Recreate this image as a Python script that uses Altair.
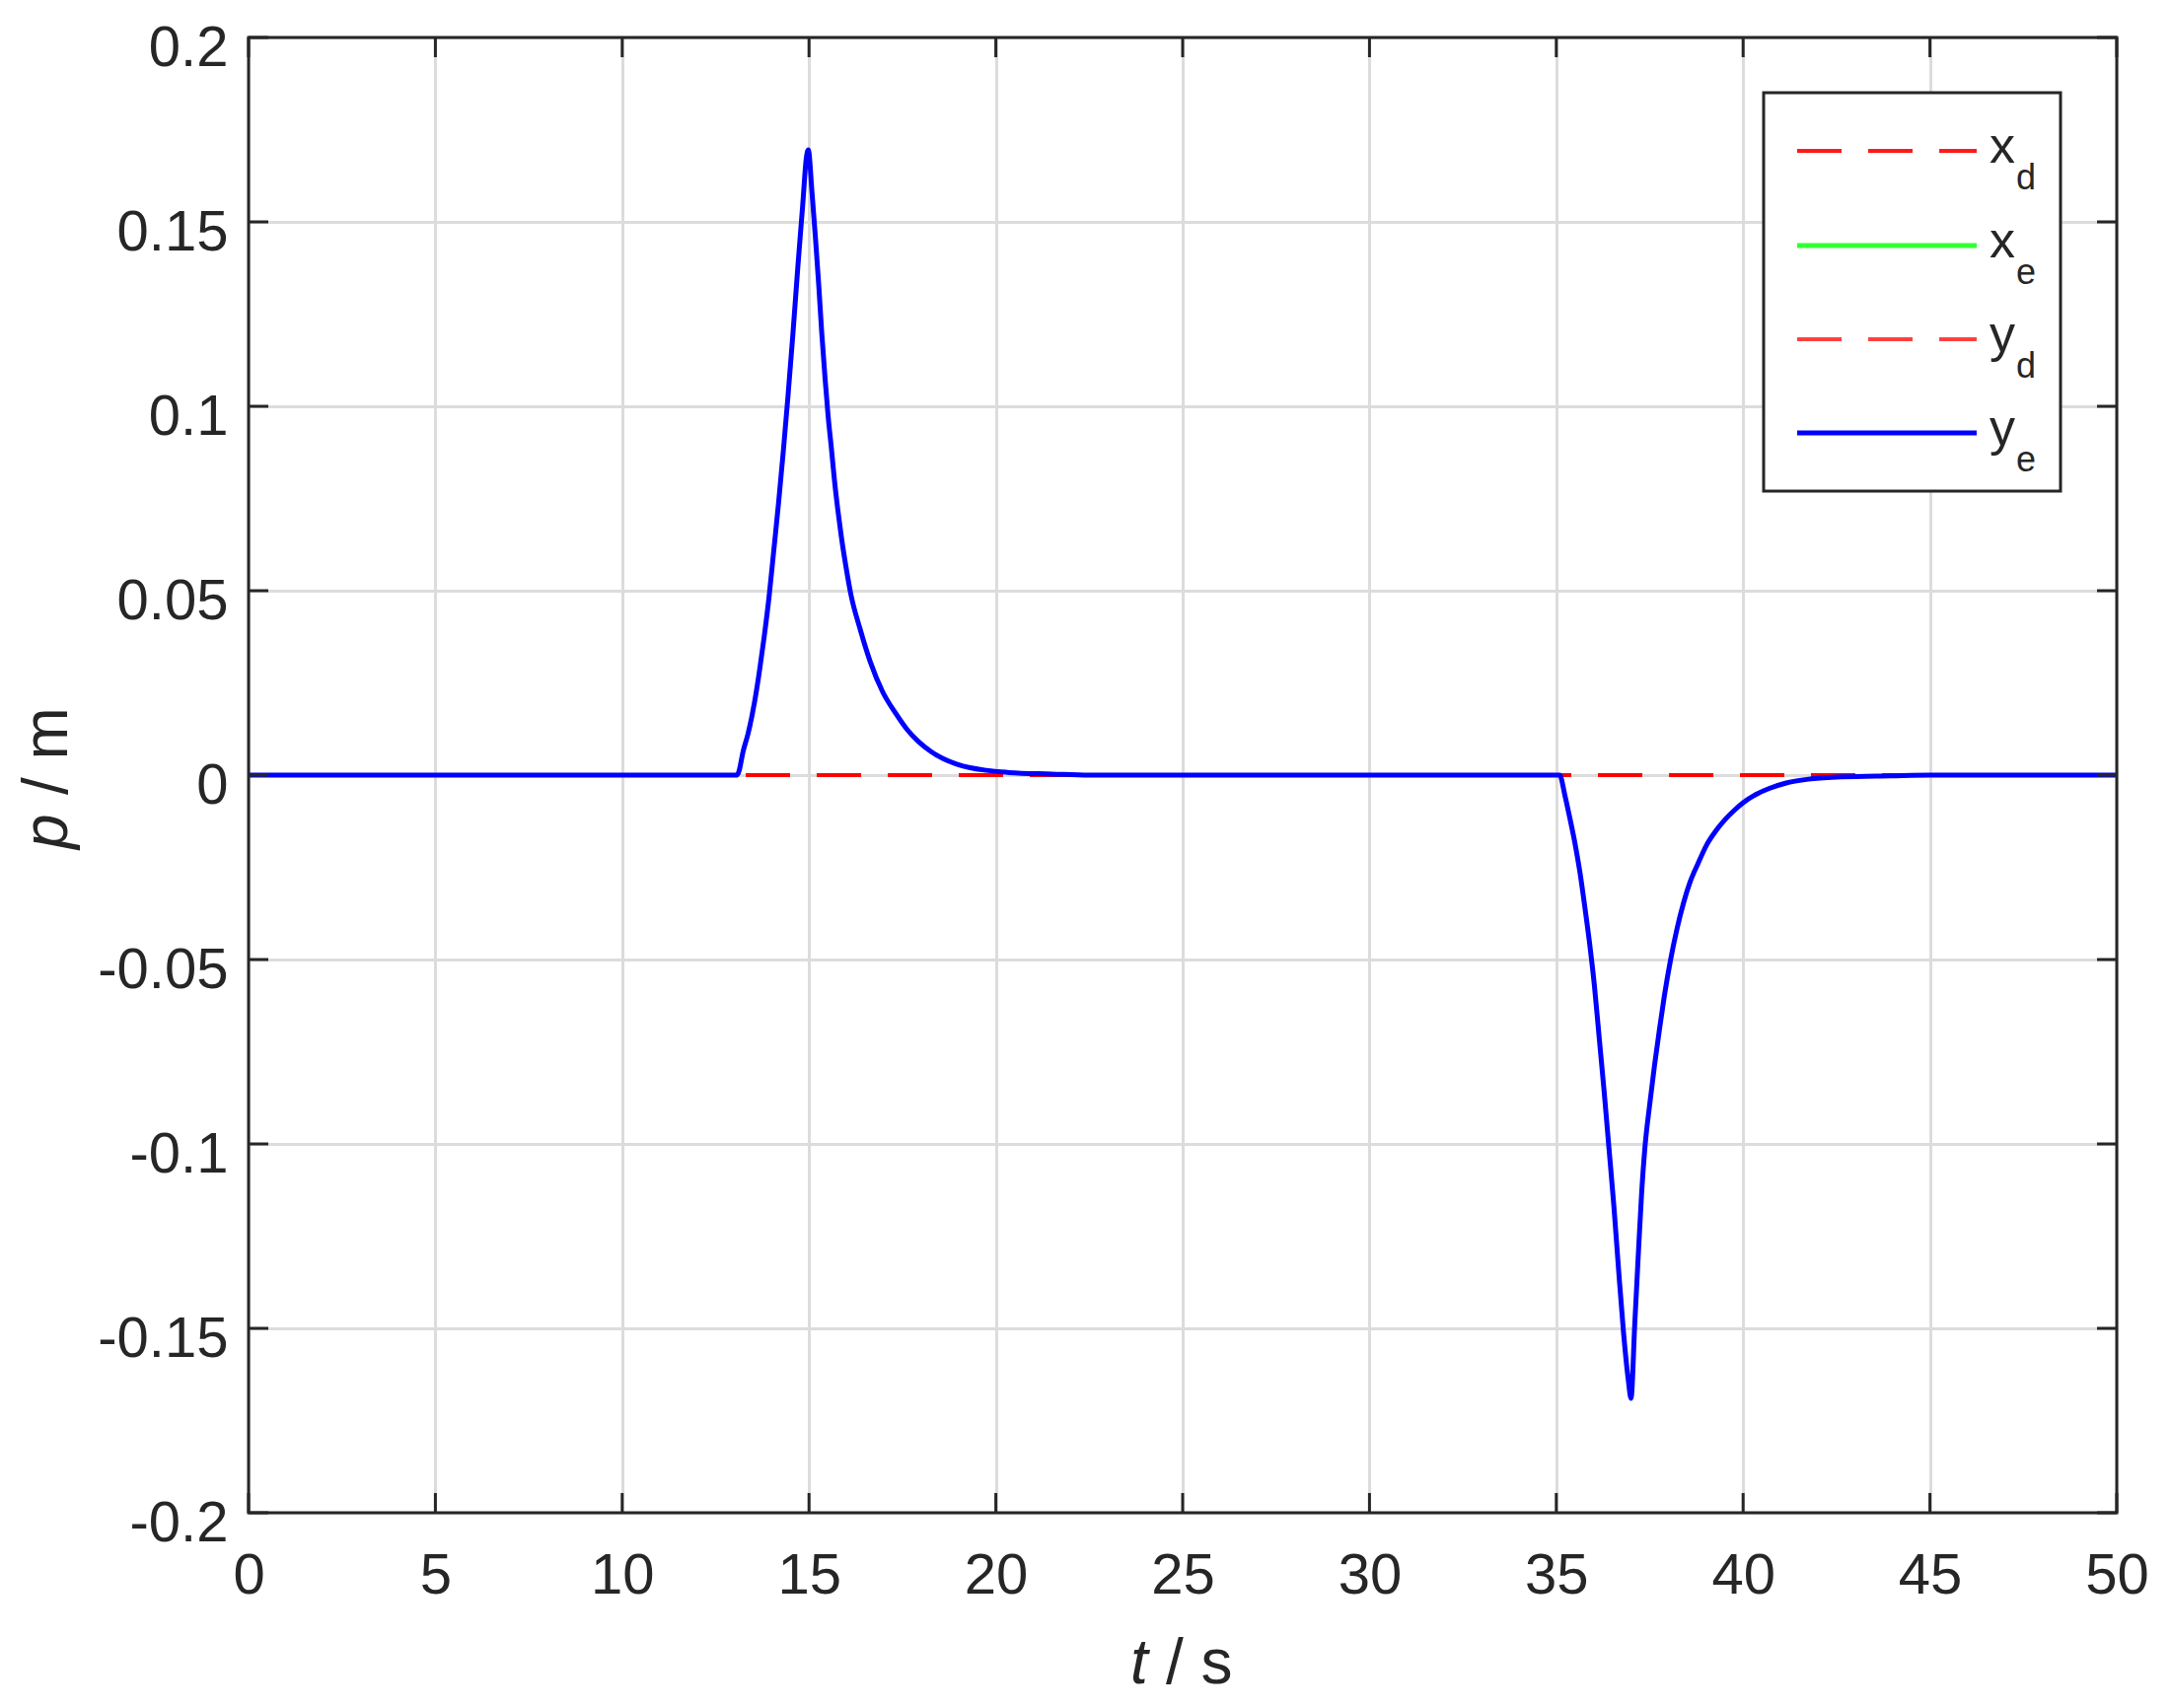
import altair as alt
import pandas as pd

# ---- data ----
t_ye = [0, 13.05, 13.11, 13.24, 13.37, 13.54, 13.67, 13.80, 13.93, 14.05, 14.18, 14.31,
        14.44, 14.57, 14.70, 14.83, 14.93, 14.98, 15.08, 15.17, 15.26, 15.34, 15.43,
        15.51, 15.60, 15.68, 15.77, 15.86, 16.03, 16.11, 16.37, 16.63, 16.97, 17.33,
        17.63, 17.94, 18.25, 18.60, 18.95, 19.31, 19.75, 20.36, 21.5, 22.5,
        35.0, 35.09, 35.23, 35.37, 35.50, 35.63, 35.76, 35.89, 36.02, 36.15, 36.28,
        36.41, 36.54, 36.67, 36.80, 36.93, 37.0, 37.10, 37.19, 37.28, 37.37, 37.50,
        37.63, 37.76, 37.89, 38.06, 38.23, 38.41, 38.58, 38.80, 39.02, 39.28, 39.54,
        39.77, 40.0, 40.35, 40.70, 41.13, 41.75, 42.63, 43.95, 45.0, 50.0]
y_e = [0, 0, 0.0006, 0.0066, 0.0113, 0.0197, 0.0280, 0.0375, 0.0483, 0.0602, 0.0733, 0.0876,
       0.1031, 0.1198, 0.1377, 0.1544, 0.1675, 0.1695, 0.1580, 0.1460, 0.1329, 0.1200, 0.1075,
       0.0975, 0.0885, 0.0800, 0.0720, 0.0650, 0.0540, 0.0495, 0.0395, 0.0310, 0.0226, 0.0166,
       0.0123, 0.0090, 0.0065, 0.0044, 0.0030, 0.0020, 0.0013, 0.0007, 0.0003, 0.0,
       0.0, 0.0, -0.0055, -0.0120, -0.0185, -0.0262, -0.0355, -0.0455, -0.0571, -0.0714, -0.0857,
       -0.1012, -0.1167, -0.1345, -0.1512, -0.1643, -0.1690, -0.1488, -0.1310, -0.1140, -0.1012, -0.0893,
       -0.0786, -0.0690, -0.0600, -0.0500, -0.0417, -0.0345, -0.0290, -0.0238, -0.0190, -0.0150, -0.0118,
       -0.0095, -0.0075, -0.0052, -0.0036, -0.0022, -0.0011, -0.0005, -0.0002, 0.0, 0.0]

t_ref = [0, 50]
x_d = [0, 0]
y_d = [0, 0]

x_ticks = [0, 5, 10, 15, 20, 25, 30, 35, 40, 45, 50]
y_ticks = [-0.2, -0.15, -0.1, -0.05, 0, 0.05, 0.1, 0.15, 0.2]

legend_main = ["x", "x", "y", "y"]
legend_sub = ["d", "e", "d", "e"]
legend_colors = ["#ff1a1a", "#33ff33", "#ff4040", "#0000ff"]
legend_dashed = [True, False, True, False]

x_title_italic, x_title_rest = "t", "/ s"
y_title_italic, y_title_rest = "p", "/ m"

# ---- layout / style ----
W, H = 1894, 1496
FONT = "Liberation Sans"
INK = "#262626"
GRID = "#dcdcdc"
DASH = [45, 27]
TICK = 20
LW = 5
LW_RED = 4

xscale = alt.Scale(domain=[0, 50], nice=False, zero=False)
yscale = alt.Scale(domain=[-0.2, 0.2], nice=False, zero=False)

x_axis = alt.Axis(values=x_ticks, grid=True, gridColor=GRID, gridWidth=3, domain=False,
                  ticks=False, tickSize=0, labelFont=FONT, labelFontSize=58, labelColor=INK,
                  labelPadding=35, labelFlush=False, title=None)
y_axis = alt.Axis(values=y_ticks, grid=True, gridColor=GRID, gridWidth=3, domain=False,
                  ticks=False, tickSize=0, labelFont=FONT, labelFontSize=58, labelColor=INK,
                  labelPadding=21, labelFlush=False, labelBaseline="alphabetic", labelOffset=28,
                  labelExpr="abs(datum.value) < 1e-9 ? '0' : (datum.value < 0 ? '-' : '') + format(abs(datum.value), '~g')",
                  title=None)

X = lambda f: alt.X(f, type="quantitative", scale=xscale, axis=x_axis)
Y = lambda f: alt.Y(f, type="quantitative", scale=yscale, axis=y_axis)

df_ref = pd.DataFrame({"t": t_ref, "xd": x_d, "yd": y_d})
df_ye = pd.DataFrame({"t": t_ye, "ye": y_e})

xd_line = alt.Chart(df_ref).mark_line(color="#ff0000", strokeWidth=LW_RED, strokeDash=DASH).encode(x=X("t"), y=Y("xd"))
yd_line = alt.Chart(df_ref).mark_line(color="#ff0000", strokeWidth=LW_RED, strokeDash=DASH).encode(x=X("t"), y=Y("yd"))
ye_line = alt.Chart(df_ye).mark_line(color="#0000ff", strokeWidth=LW, interpolate="monotone").encode(x=X("t"), y=Y("ye"))

df_xt = pd.DataFrame({"t": x_ticks})
df_yt = pd.DataFrame({"v": y_ticks})
tick_b = alt.Chart(df_xt).mark_rule(color=INK, strokeWidth=3).encode(x=X("t"), y=alt.value(H), y2=alt.value(H - TICK))
tick_t = alt.Chart(df_xt).mark_rule(color=INK, strokeWidth=3).encode(x=X("t"), y=alt.value(0), y2=alt.value(TICK))
tick_l = alt.Chart(df_yt).mark_rule(color=INK, strokeWidth=3).encode(y=Y("v"), x=alt.value(0), x2=alt.value(TICK))
tick_r = alt.Chart(df_yt).mark_rule(color=INK, strokeWidth=3).encode(y=Y("v"), x=alt.value(W), x2=alt.value(W - TICK))

one = pd.DataFrame({"a": [0]})
frame = alt.Chart(one).mark_rect(fillOpacity=0, stroke=INK, strokeWidth=3).encode(
    x=alt.value(0), x2=alt.value(W), y=alt.value(0), y2=alt.value(H))

# axis titles (italic variable + upright unit)
xt1 = alt.Chart(one).mark_text(text=x_title_italic, font=FONT, fontSize=64, fontStyle="italic", color=INK,
                               align="left", baseline="alphabetic").encode(x=alt.value(894), y=alt.value(1669))
xt2 = alt.Chart(one).mark_text(text=x_title_rest, font=FONT, fontSize=64, color=INK,
                               align="left", baseline="alphabetic").encode(x=alt.value(930), y=alt.value(1669))
yt1 = alt.Chart(one).mark_text(text=y_title_italic, font=FONT, fontSize=64, fontStyle="italic", color=INK,
                               align="left", baseline="alphabetic", angle=270).encode(x=alt.value(-184), y=alt.value(823))
yt2 = alt.Chart(one).mark_text(text=y_title_rest, font=FONT, fontSize=64, color=INK,
                               align="left", baseline="alphabetic", angle=270).encode(x=alt.value(-184), y=alt.value(768))

# legend
LB_X0, LB_X1, LB_Y0, LB_Y1 = 1536, 1837, 56, 460
rows = [115, 211, 306, 401]
legend_layers = [alt.Chart(one).mark_rect(fill="white", stroke=INK, strokeWidth=3).encode(
    x=alt.value(LB_X0), x2=alt.value(LB_X1), y=alt.value(LB_Y0), y2=alt.value(LB_Y1))]
for i, ry in enumerate(rows):
    kw = dict(color=legend_colors[i], strokeWidth=LW)
    if legend_dashed[i]:
        kw["strokeDash"] = DASH
        kw["strokeWidth"] = LW_RED
    legend_layers.append(alt.Chart(one).mark_rule(**kw).encode(
        x=alt.value(1570), x2=alt.value(1752), y=alt.value(ry)))
    legend_layers.append(alt.Chart(one).mark_text(text=legend_main[i], font=FONT, fontSize=52, color=INK,
                                                  align="left", baseline="alphabetic").encode(
        x=alt.value(1765), y=alt.value(ry + 12)))
    legend_layers.append(alt.Chart(one).mark_text(text=legend_sub[i], font=FONT, fontSize=36, color=INK,
                                                  align="left", baseline="alphabetic").encode(
        x=alt.value(1792), y=alt.value(ry + 39)))

chart = alt.layer(
    xd_line, yd_line, ye_line, tick_b, tick_t, tick_l, tick_r, frame,
    xt1, xt2, yt1, yt2, *legend_layers
).properties(
    width=W, height=H,
    autosize=alt.AutoSizeParams(type="none"),
    padding={"left": 244, "top": 30, "right": 47, "bottom": 190},
    background="white",
).configure_view(stroke=None)

chart.save("out.html", embed_options={"renderer": "svg", "actions": False})
